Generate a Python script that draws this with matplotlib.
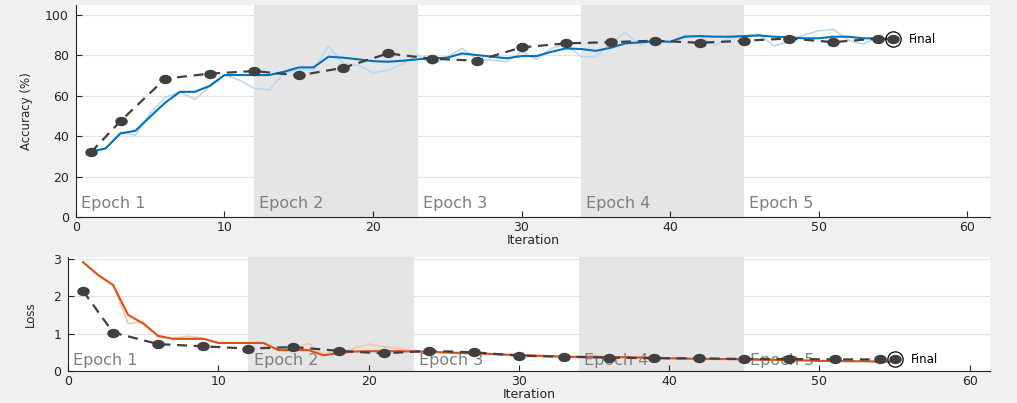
import numpy as np
import matplotlib
matplotlib.use('Agg')
import matplotlib.pyplot as plt
import matplotlib.transforms as mtransforms
from matplotlib.path import Path

# --- Data ---
iterations = list(range(1, 56))

acc_raw = [32, 34, 42, 40.6, 51.3, 59.2, 62, 58.2, 64.6, 70.3,
           67.8, 63.7, 62.9, 71.1, 73.1, 72.8, 84.7, 76, 75.2, 71.4,
           72.8, 75.7, 80.2, 75.5, 79.4, 83.5, 78.1, 77.7, 76.9, 81.8,
           78.1, 83.5, 85.5, 79.4, 79.4, 86, 91.3, 85.1, 88, 86.3,
           90.1, 89.6, 85.1, 88.5, 89.6, 90.6, 84.7, 86.8, 90.1, 92.2,
           92.9, 87.6, 85.6, 89, 88]
acc_smooth = [32.3, 34, 41.4, 42.7, 49.7, 56.6, 62, 62, 64.9, 70.3,
              70.3, 70.3, 70.3, 71.9, 74.1, 74.1, 79.4, 78.9, 78.1, 77.2,
              76.9, 77.4, 78.1, 78.6, 78.9, 81, 80.2, 79.4, 78.6, 79.7,
              79.7, 81.8, 83.5, 83.2, 82.3, 83.8, 86, 86.5, 87.1, 86.8,
              89.3, 89.6, 89.3, 89.3, 89.6, 89.9, 89.3, 89, 88.5, 88.5,
              89.3, 89.3, 88.5, 88.5, 88]

loss_raw = [2.91, 2.57, 2.30, 1.27, 1.32, 0.90, 0.88, 0.93, 0.88, 0.76,
            0.75, 0.75, 0.74, 0.56, 0.60, 0.74, 0.45, 0.52, 0.60, 0.72,
            0.65, 0.60, 0.55, 0.52, 0.48, 0.50, 0.49, 0.46, 0.42, 0.44,
            0.42, 0.40, 0.37, 0.38, 0.41, 0.37, 0.35, 0.37, 0.35, 0.33,
            0.34, 0.31, 0.33, 0.30, 0.32, 0.29, 0.31, 0.28, 0.30, 0.27,
            0.28, 0.26, 0.27, 0.24, 0.25]
loss_smooth = [2.91, 2.57, 2.30, 1.50, 1.27, 0.94, 0.86, 0.86, 0.86, 0.75,
               0.75, 0.75, 0.75, 0.56, 0.56, 0.56, 0.42, 0.48, 0.52, 0.53,
               0.53, 0.53, 0.52, 0.51, 0.50, 0.48, 0.47, 0.46, 0.44, 0.43,
               0.41, 0.40, 0.38, 0.38, 0.38, 0.37, 0.37, 0.36, 0.36, 0.34,
               0.33, 0.33, 0.32, 0.32, 0.31, 0.30, 0.30, 0.29, 0.28, 0.27,
               0.27, 0.26, 0.26, 0.25, 0.25]

val_iter = [1, 3, 6, 9, 12, 15, 18, 21, 24, 27, 30, 33, 36, 39, 42, 45, 48, 51, 54, 55]
val_acc = [32, 47.5, 68.5, 71, 72.3, 70.1, 73.9, 81, 78.4, 77.4,
           84, 86, 86.6, 87.3, 86.3, 87.3, 88.4, 86.6, 88.4, 88]
val_loss = [2.14, 1.03, 0.72, 0.66, 0.60, 0.64, 0.54, 0.47, 0.54, 0.50,
            0.41, 0.38, 0.36, 0.34, 0.34, 0.32, 0.32, 0.31, 0.31, 0.31]

epoch_starts = [0, 12, 23, 34, 45]
epoch_labels = ['Epoch 1', 'Epoch 2', 'Epoch 3', 'Epoch 4', 'Epoch 5']
shaded_epochs = [(12, 23), (34, 45)]

# --- Style ---
BG = '#f0f0f0'
SHADE = '#e5e5e5'
AXCOL = '#262626'
VALCOL = '#404040'

# the original window is stretched sideways, so markers are wide ellipses
_circ = Path.unit_circle()
WIDE_DOT = Path(_circ.vertices * np.array([1.4, 1.0]), _circ.codes)


def style_axes(ax, xmax, ylim, yticks):
    ax.set_facecolor('white')
    ax.set_xlim(0, xmax)
    ax.set_ylim(*ylim)
    ax.set_xticks([0, 10, 20, 30, 40, 50, 60])
    ax.set_yticks(yticks)
    ax.grid(axis='y', color='#e3e3e3', linewidth=0.9)
    ax.set_axisbelow(True)
    for s in ['top', 'right']:
        ax.spines[s].set_visible(False)
    for s in ['left', 'bottom']:
        ax.spines[s].set_color(AXCOL)
        ax.spines[s].set_linewidth(0.8)
    ax.tick_params(direction='in', length=4, width=0.8, colors=AXCOL,
                   labelsize=9, pad=5)
    ax.tick_params(axis='x', pad=3)


def draw_epochs(ax):
    for a, b in shaded_epochs:
        ax.axvspan(a, b, color=SHADE, zorder=0, lw=0)
    trans = mtransforms.blended_transform_factory(ax.transData, ax.transAxes)
    for x0, lab in zip(epoch_starts, epoch_labels):
        ax.text(x0 + 0.35, 0.03, lab, transform=trans, fontsize=11.5,
                color='#7f7f7f', ha='left', va='bottom', zorder=1)


def draw_validation(ax, xs, ys):
    ax.plot(xs, ys, linestyle=(0, (4.5, 3)), color=VALCOL, linewidth=1.6,
            marker=WIDE_DOT, markersize=8, markerfacecolor=VALCOL,
            markeredgecolor=VALCOL, zorder=4)
    ax.plot(xs[-1], ys[-1], marker='o', markersize=11, markerfacecolor='none',
            markeredgecolor='black', markeredgewidth=0.9, zorder=5)
    ax.text(xs[-1] + 1.1, ys[-1], 'Final', fontsize=8.5, color='black',
            ha='left', va='center')


fig = plt.figure(figsize=(10.17, 4.03), dpi=100, facecolor=BG)

# Accuracy
ax1 = fig.add_axes([0.0747, 0.4615, 0.8988, 0.5261])
style_axes(ax1, 61.55, (0, 105), [0, 20, 40, 60, 80, 100])
draw_epochs(ax1)
ax1.plot(iterations, acc_raw, color='#bcd8ee', linewidth=1.2, zorder=2)
ax1.plot(iterations, acc_smooth, color='#0072bd', linewidth=1.5, zorder=3)
draw_validation(ax1, val_iter, val_acc)
ax1.set_xlabel('Iteration', fontsize=9, color=AXCOL, labelpad=0)
ax1.set_ylabel('Accuracy (%)', fontsize=8.5, color=AXCOL, labelpad=9)

# Loss
ax2 = fig.add_axes([0.0669, 0.0794, 0.9066, 0.2829])
style_axes(ax2, 61.35, (0, 3.05), [0, 1, 2, 3])
draw_epochs(ax2)
ax2.plot(iterations, loss_raw, color='#f5c7b1', linewidth=1.2, zorder=2)
ax2.plot(iterations, loss_smooth, color='#d95319', linewidth=1.5, zorder=3)
draw_validation(ax2, val_iter, val_loss)
ax2.set_xlabel('Iteration', fontsize=9, color=AXCOL, labelpad=0)
ax2.set_ylabel('Loss', fontsize=8.5, color=AXCOL, labelpad=12)

fig.savefig('out.png', dpi=100, facecolor=BG)
